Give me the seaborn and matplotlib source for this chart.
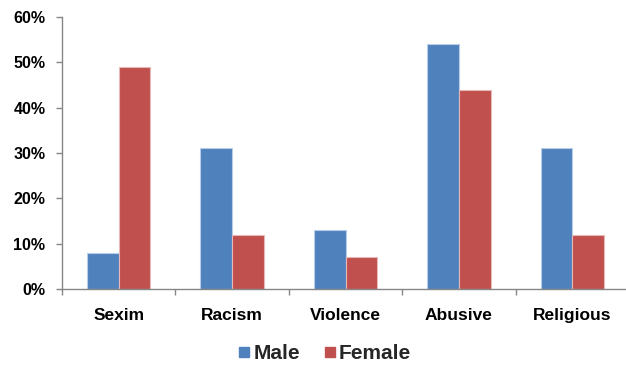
import matplotlib
matplotlib.use("Agg")
import matplotlib.pyplot as plt
from matplotlib.lines import Line2D
from matplotlib.font_manager import FontProperties
from matplotlib.ticker import FuncFormatter, FixedLocator
import seaborn as sns
import pandas as pd

categories = ["Sexim", "Racism", "Violence", "Abusive", "Religious"]
male = [8, 31, 13, 54, 31]
female = [49, 12, 7, 44, 12]
series = ["Male", "Female"]
colors = {"Male": "#4F81BD", "Female": "#C0504D"}
edges = {"Male": "#B9CDE8", "Female": "#E6B9B8"}

df = pd.DataFrame({
    "category": categories * 2,
    "value": male + female,
    "gender": ["Male"] * len(categories) + ["Female"] * len(categories),
})

sns.set_style("white")
plt.rcParams["font.family"] = ["Liberation Sans", "DejaVu Sans"]

fig = plt.figure(figsize=(6.26, 3.67), dpi=100)
ax = fig.add_axes([62 / 626, (367 - 289) / 367, 567 / 626, (289 - 17) / 367])

sns.barplot(data=df, x="category", y="value", hue="gender", order=categories,
            hue_order=series, palette=colors, width=0.56, saturation=1,
            ax=ax, legend=False)

for container, name in zip(ax.containers, series):
    for bar in container:
        bar.set_edgecolor(edges[name])
        bar.set_linewidth(0.8)

ax.set_ylim(0, 60)
ax.set_xlim(-0.5, len(categories) - 0.5)
ax.set_yticks(range(0, 61, 10))
ax.yaxis.set_major_formatter(FuncFormatter(lambda v, p: f"{int(v)}%"))
ax.set_xlabel("")
ax.set_ylabel("")

for s in ["top", "right"]:
    ax.spines[s].set_visible(False)
for s in ["left", "bottom"]:
    ax.spines[s].set_color("#868686")
    ax.spines[s].set_linewidth(1.0)

ax.tick_params(axis="y", which="major", direction="out", length=4, width=1,
               color="#868686", pad=8, left=True, labelsize=11.5)
ax.tick_params(axis="x", which="major", length=0, pad=14, labelsize=12.5)
ax.xaxis.set_minor_locator(FixedLocator([i - 0.5 for i in range(len(categories) + 1)]))
ax.tick_params(axis="x", which="minor", direction="out", length=4, width=1,
               color="#868686", bottom=True)
for lbl in ax.get_xticklabels() + ax.get_yticklabels():
    lbl.set_fontweight("bold")
    lbl.set_color("black")

legend_font = FontProperties(family="Liberation Sans", weight="bold", size=15)
handles = [Line2D([], [], marker="s", linestyle="none", markersize=7.5,
                  markerfacecolor=colors[n], markeredgecolor=colors[n]) for n in series]
fig.legend(handles, series, loc="center", bbox_to_anchor=(0.517, 0.036), ncol=2,
           frameon=False, prop=legend_font,
           handletextpad=0.05, columnspacing=1.0, handlelength=0.8)

fig.savefig("out.png", dpi=100)
